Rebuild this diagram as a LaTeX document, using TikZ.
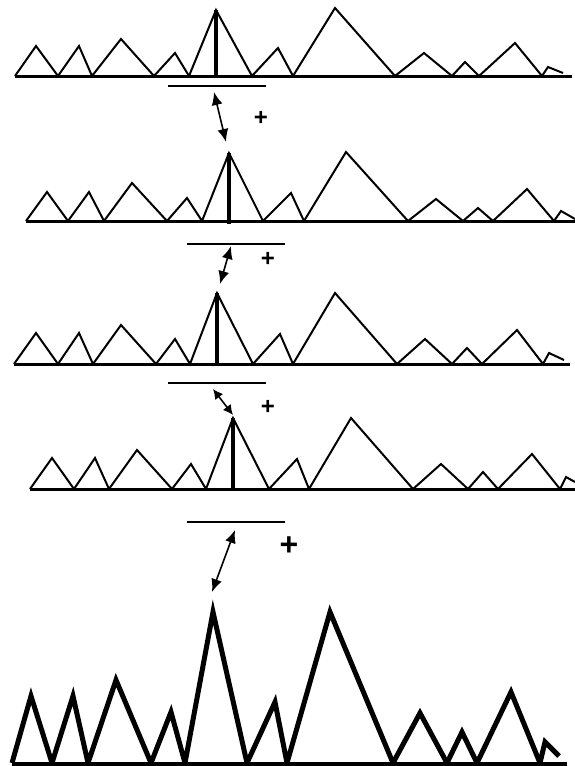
\documentclass[tikz,border=0pt]{standalone}
\usepackage{fontspec}
\setsansfont{Liberation Sans}
\usetikzlibrary{arrows.meta}
\begin{document}
\begin{tikzpicture}[x=1pt,y=-1pt,
  base/.style={line width=3pt},
  wave/.style={line width=2pt},
  bigbase/.style={line width=4pt},
  bigwave/.style={line width=5pt},
  marker/.style={line width=4pt},
  bar/.style={line width=2pt},
  shift arrow/.style={line width=1.6pt,{Latex[length=13pt,width=11pt]}-{Latex[length=13pt,width=11pt]}},
  short arrow/.style={line width=1.6pt,{Latex[length=10pt,width=10pt]}-{Latex[length=10pt,width=10pt]}},
  plus/.style={font=\sffamily\bfseries\fontsize{24}{24}\selectfont, inner sep=0pt}
]
\useasboundingbox (0,0) rectangle (575,766);

% ---- graph 1
\draw[base] (15,76) -- (572,76);
\draw[wave] (15,76) -- (36,46) -- (58,76) -- (79,46) -- (92,76) -- (121,39) -- (154,76) -- (175,53) -- (189,76) -- (216,10) -- (252,76) -- (278,48) -- (293,76) -- (335,8) -- (395,76) -- (424,53) -- (452,76) -- (465,62) -- (479,76) -- (515,43) -- (542,76) -- (548,67) -- (563,73);
\draw[marker] (216,10) -- (216,76);
\draw[bar] (168,86) -- (266,86);
\coordinate (a1) at (214,92);
\coordinate (b1) at (226,142);
\draw[shift arrow] (a1) -- (b1);
\node[plus] (p1) at (261,118) {+};

% ---- graph 2
\draw[base] (26,221) -- (575,221);
\draw[wave] (26,221) -- (47,192) -- (68,221) -- (89,192) -- (104,221) -- (132,183) -- (167,221) -- (187,198) -- (202,221) -- (229,153) -- (263,221) -- (291,193) -- (304,221) -- (346,152) -- (408,221) -- (436,199) -- (463,221) -- (478,208) -- (493,221) -- (527,189) -- (554,221) -- (561,211) -- (575,219);
\draw[marker] (229,153) -- (229,224);
\draw[bar] (187,244) -- (285,244);
\coordinate (a2) at (231,246);
\coordinate (b2) at (220,284);
\draw[shift arrow] (a2) -- (b2);
\node[plus] (p2) at (268,259) {+};

% ---- graph 3
\draw[base] (14,364) -- (570,364);
\draw[wave] (14,364) -- (36,333) -- (58,364) -- (79,333) -- (93,364) -- (121,325) -- (156,364) -- (175,339) -- (190,364) -- (217,293) -- (253,364) -- (280,334) -- (293,364) -- (335,293) -- (397,364) -- (425,339) -- (452,364) -- (467,348) -- (482,364) -- (517,330) -- (543,364) -- (549,353) -- (564,360);
\draw[marker] (217,293) -- (217,364);
\draw[bar] (168,383) -- (266,383);
\coordinate (a3) at (213,389);
\coordinate (b3) at (233,415);
\draw[short arrow] (a3) -- (b3);
\node[plus] (p3) at (268,407) {+};

% ---- graph 4
\draw[base] (30,489) -- (575,489);
\draw[wave] (30,489) -- (52,458) -- (74,489) -- (95,458) -- (109,489) -- (137,450) -- (172,489) -- (191,464) -- (206,489) -- (233,418) -- (269,489) -- (297,459) -- (309,489) -- (351,418) -- (413,489) -- (441,464) -- (468,489) -- (483,472) -- (498,489) -- (532,454) -- (560,489) -- (566,477) -- (575,482);
\draw[marker] (233,418) -- (233,491);
\draw[bar] (187,522) -- (285,522);
\coordinate (a4) at (235,530);
\coordinate (b4) at (212,592);
\draw[shift arrow] (a4) -- (b4);
\node[plus, font=\sffamily\bfseries\fontsize{32}{32}\selectfont] (p4) at (289,546) {+};

% ---- result graph
\draw[bigbase] (12,764) -- (567,764);
\draw[bigwave] (12,763) -- (31,696) -- (52,763) -- (73,696) -- (88,763) -- (116,680) -- (151,763) -- (171,712) -- (185,763) -- (213,612) -- (247,763) -- (275,702) -- (287,763) -- (330,612) -- (393,763) -- (420,713) -- (447,763) -- (462,732) -- (477,763) -- (511,692) -- (540,763) -- (545,742) -- (559,756);
\end{tikzpicture}
\end{document}
